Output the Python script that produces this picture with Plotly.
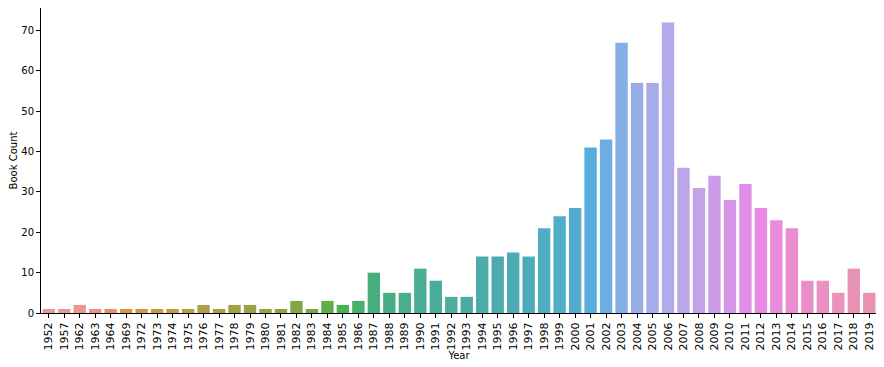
import math
import colorsys
import numpy as np
import plotly.graph_objects as go

years = ["1952", "1957", "1962", "1963", "1964", "1969", "1972", "1973", "1974", "1975",
         "1976", "1977", "1978", "1979", "1980", "1981", "1982", "1983", "1984", "1985",
         "1986", "1987", "1988", "1989", "1990", "1991", "1992", "1993", "1994", "1995",
         "1996", "1997", "1998", "1999", "2000", "2001", "2002", "2003", "2004", "2005",
         "2006", "2007", "2008", "2009", "2010", "2011", "2012", "2013", "2014", "2015",
         "2016", "2017", "2018", "2019"]
book_counts = [1, 1, 2, 1, 1, 1, 1, 1, 1, 1,
               2, 1, 2, 2, 1, 1, 3, 1, 3, 2,
               3, 10, 5, 5, 11, 8, 4, 4, 14, 14,
               15, 14, 21, 24, 26, 41, 43, 67, 57, 57,
               72, 36, 31, 34, 28, 32, 26, 23, 21, 8,
               8, 5, 11, 5]

# --- husl palette (as in seaborn) ---
M = [[3.2406, -1.5372, -0.4986],
     [-0.9689, 1.8758, 0.0415],
     [0.0557, -0.2040, 1.0570]]
refU, refV = 0.19784, 0.46834


def max_chroma(L, H):
    hrad = math.radians(H)
    sinH, cosH = math.sin(hrad), math.cos(hrad)
    sub1 = (L + 16) ** 3 / 1560896.0
    sub2 = sub1 if sub1 > 0.008856 else L / 903.3
    result = float("inf")
    for m1, m2, m3 in M:
        top = (0.99915 * m1 + 1.05122 * m2 + 1.14460 * m3) * sub2
        rbottom = 0.86330 * m3 - 0.17266 * m2
        lbottom = 0.12949 * m3 - 0.38848 * m1
        bottom = (rbottom * sinH + lbottom * cosH) * sub2
        for t in (0.0, 1.0):
            C = L * (top - 1.05122 * t) / (bottom + 0.17266 * sinH * t)
            if 0.0 < C < result:
                result = C
    return result


def f_inv(t):
    return t ** 3 if t ** 3 > 0.008856 else (116.0 * t - 16.0) / 903.3


def from_linear(c):
    return 12.92 * c if c <= 0.0031308 else 1.055 * c ** (1 / 2.4) - 0.055


def husl_to_rgb(H, S, L):
    C = max_chroma(L, H) / 100.0 * S
    hr = math.radians(H)
    U, V = math.cos(hr) * C, math.sin(hr) * C
    varY = f_inv((L + 16.0) / 116.0)
    varU = U / (13.0 * L) + refU
    varV = V / (13.0 * L) + refV
    Y = varY
    X = -(9.0 * Y * varU) / ((varU - 4.0) * varV - varU * varV)
    Z = (9.0 * Y - 15.0 * varV * Y - varV * X) / (3.0 * varV)
    rgb = [from_linear(r[0] * X + r[1] * Y + r[2] * Z) for r in M]
    return [min(max(c, 0), 1) for c in rgb]


n = len(years)
hues = (np.linspace(0, 1, n + 1)[:-1] + 0.01) % 1 * 359
colors = []
for h in hues:
    r, g, b = husl_to_rgb(h, 0.9 * 99, 0.7 * 99)
    hh, ll, ss = colorsys.rgb_to_hls(r, g, b)
    r, g, b = colorsys.hls_to_rgb(hh, ll, ss * 0.75)
    colors.append("rgb(%d,%d,%d)" % (round(r * 255), round(g * 255), round(b * 255)))

fig = go.Figure(go.Bar(x=years, y=book_counts, marker=dict(color=colors, line=dict(width=0))))

axis_font = dict(family="DejaVu Sans", size=10, color="black")
fig.update_layout(
    width=876, height=359,
    margin=dict(l=33, r=7, t=0, b=54),
    paper_bgcolor="white", plot_bgcolor="white",
    bargap=0.2, showlegend=False,
    font=axis_font,
)
fig.update_xaxes(
    type="category", tickangle=-90, showgrid=False, showline=True, linecolor="black",
    linewidth=1, ticks="outside", ticklen=4, tickcolor="black",
    tickfont=dict(family="DejaVu Sans", size=11, color="black"),
    title=dict(text="Year", font=axis_font, standoff=2),
    range=[-0.5, n - 0.5], automargin=False,
)
fig.update_yaxes(
    range=[0, 75.6], tickvals=[0, 10, 20, 30, 40, 50, 60, 70], showgrid=False,
    zeroline=False, showline=True, linecolor="black", linewidth=1,
    ticks="outside", ticklen=4, tickcolor="black", tickfont=axis_font,
    title=dict(text="Book Count", font=axis_font, standoff=6), automargin=False,
)
fig.write_html("out.html")
